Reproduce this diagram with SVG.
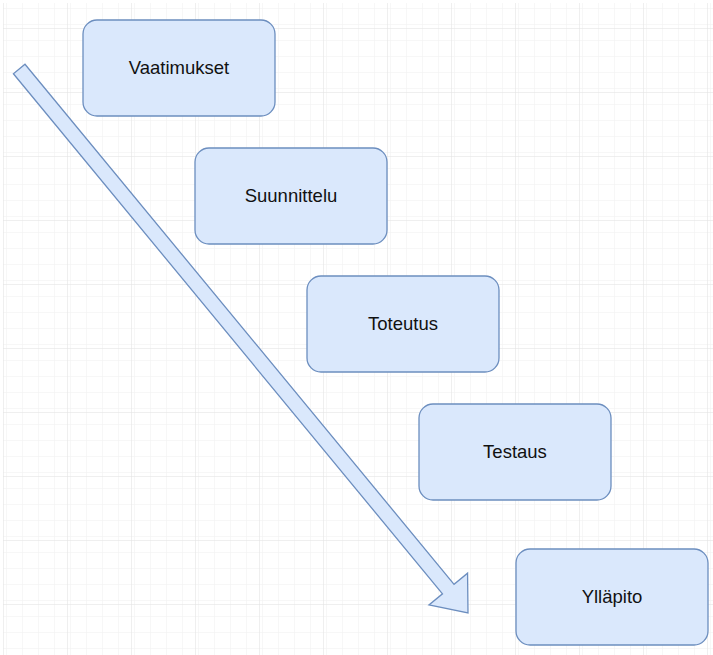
<svg xmlns="http://www.w3.org/2000/svg" width="713" height="655" viewBox="0 0 713 655">
<style>
.node rect{fill:#dae8fc;stroke:#6c8ebf;stroke-width:1.3}
.node text{font-family:"Liberation Sans",Arial,sans-serif;font-size:18.5px;fill:#111;text-anchor:middle;dominant-baseline:central}
.arrow{fill:#dae8fc;stroke:#6c8ebf;stroke-width:1.3;stroke-linejoin:miter}
</style>
<defs>
<pattern id="minor" x="3" y="12" width="16" height="16" patternUnits="userSpaceOnUse">
<path d="M0 0H16M0 0V16" fill="none" stroke="#efefef" stroke-width="1"/>
</pattern>
<pattern id="major" x="3" y="28" width="64" height="64" patternUnits="userSpaceOnUse">
<rect width="64" height="64" fill="url(#minor)"/>
<path d="M0 0H64M0 0V64" fill="none" stroke="#e0e0e0" stroke-width="1"/>
</pattern>
</defs>
<rect width="713" height="655" fill="#fff"/>
<rect x="3" y="3" width="710" height="652" fill="url(#major)"/>
<g id="connectors">
<polygon class="arrow" points="24.99,64.23 454.06,584.32 467.56,573.18 468,613 428.98,605 442.48,593.86 13.41,73.77"/>
</g>
<g id="n1" class="node"><rect x="83" y="20" width="192" height="96" rx="14"/><text x="179" y="67">Vaatimukset</text></g>
<g id="n2" class="node"><rect x="195" y="148" width="192" height="96" rx="14"/><text x="291" y="195">Suunnittelu</text></g>
<g id="n3" class="node"><rect x="307" y="276" width="192" height="96" rx="14"/><text x="403" y="323">Toteutus</text></g>
<g id="n4" class="node"><rect x="419" y="404" width="192" height="96" rx="14"/><text x="515" y="451">Testaus</text></g>
<g id="n5" class="node"><rect x="516" y="549" width="192" height="96" rx="14"/><text x="612" y="596">Ylläpito</text></g>
</svg>
